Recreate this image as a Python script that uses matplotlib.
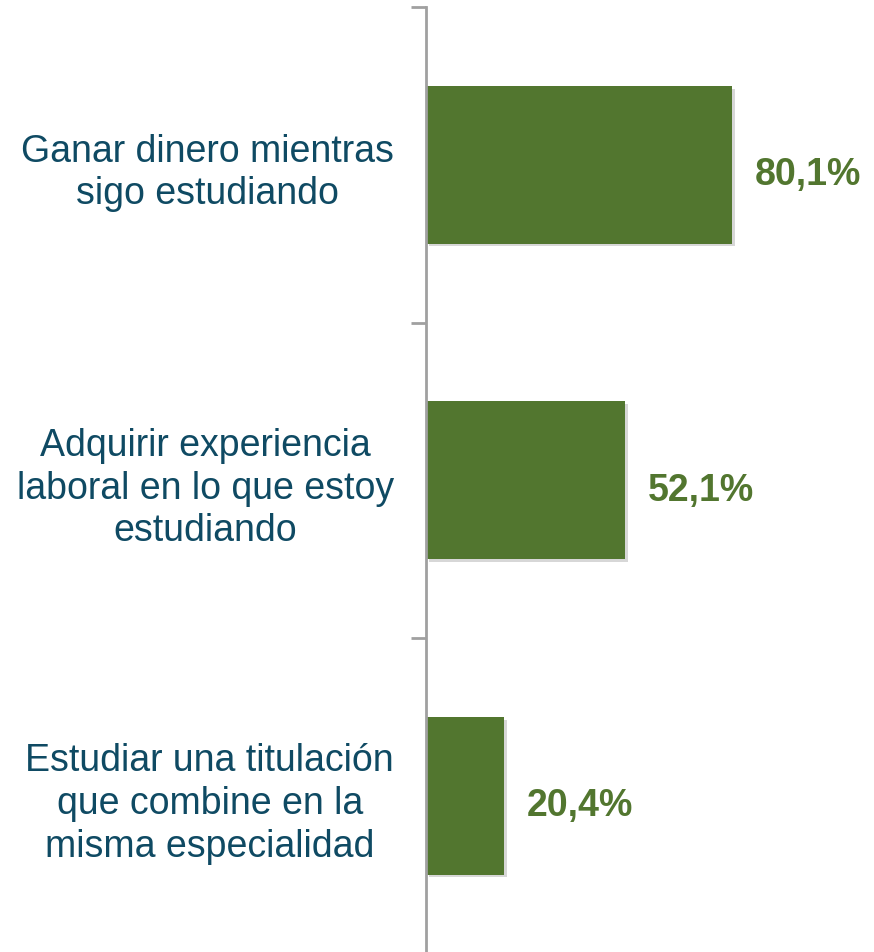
import matplotlib.pyplot as plt
import matplotlib.patheffects as pe

# datos
categorias = ['Ganar dinero mientras\nsigo estudiando',
              'Adquirir experiencia\nlaboral en lo que estoy\nestudiando',
              'Estudiar una titulación\nque combine en la\nmisma especialidad']
valores = [80.1, 52.1, 20.4]
etiquetas = ['80,1%', '52,1%', '20,4%']

plt.rcParams['font.family'] = ['Liberation Sans', 'DejaVu Sans']

fig = plt.figure(figsize=(8.74, 9.53), dpi=100)
ax = fig.add_axes([426 / 874, -1.5 / 953, 448 / 874, 946.5 / 953])

posiciones = list(range(len(categorias)))
barras = ax.barh(posiciones, valores, height=0.5, color='#52762F')
for b in barras:
    b.set_path_effects([pe.SimplePatchShadow(offset=(2, -2), shadow_rgbFace='#B0B0B0', alpha=0.5),
                        pe.Normal()])

for p, v, t in zip(posiciones, valores, etiquetas):
    ax.text(v + 6, p + 0.03, t, va='center', ha='left', fontsize=27,
            fontweight='bold', color='#52762F')

ax.set_xlim(0, 117.3)
ax.set_ylim(2.5, -0.5)

ax.set_yticks(posiciones)
ax.set_yticklabels(categorias, fontsize=27, color='#0F4A63',
                   multialignment='center', linespacing=1.24)
ax.tick_params(axis='y', which='major', length=0, pad=23)
ax.set_yticks([-0.5, 0.5, 1.5, 2.5], minor=True)
ax.tick_params(axis='y', which='minor', length=11, width=2, color='#A0A0A0')
ax.set_xticks([])

for s in ['top', 'right', 'bottom']:
    ax.spines[s].set_visible(False)
ax.spines['left'].set_color('#A0A0A0')
ax.spines['left'].set_linewidth(2)

fig.savefig('out.png', dpi=100)
